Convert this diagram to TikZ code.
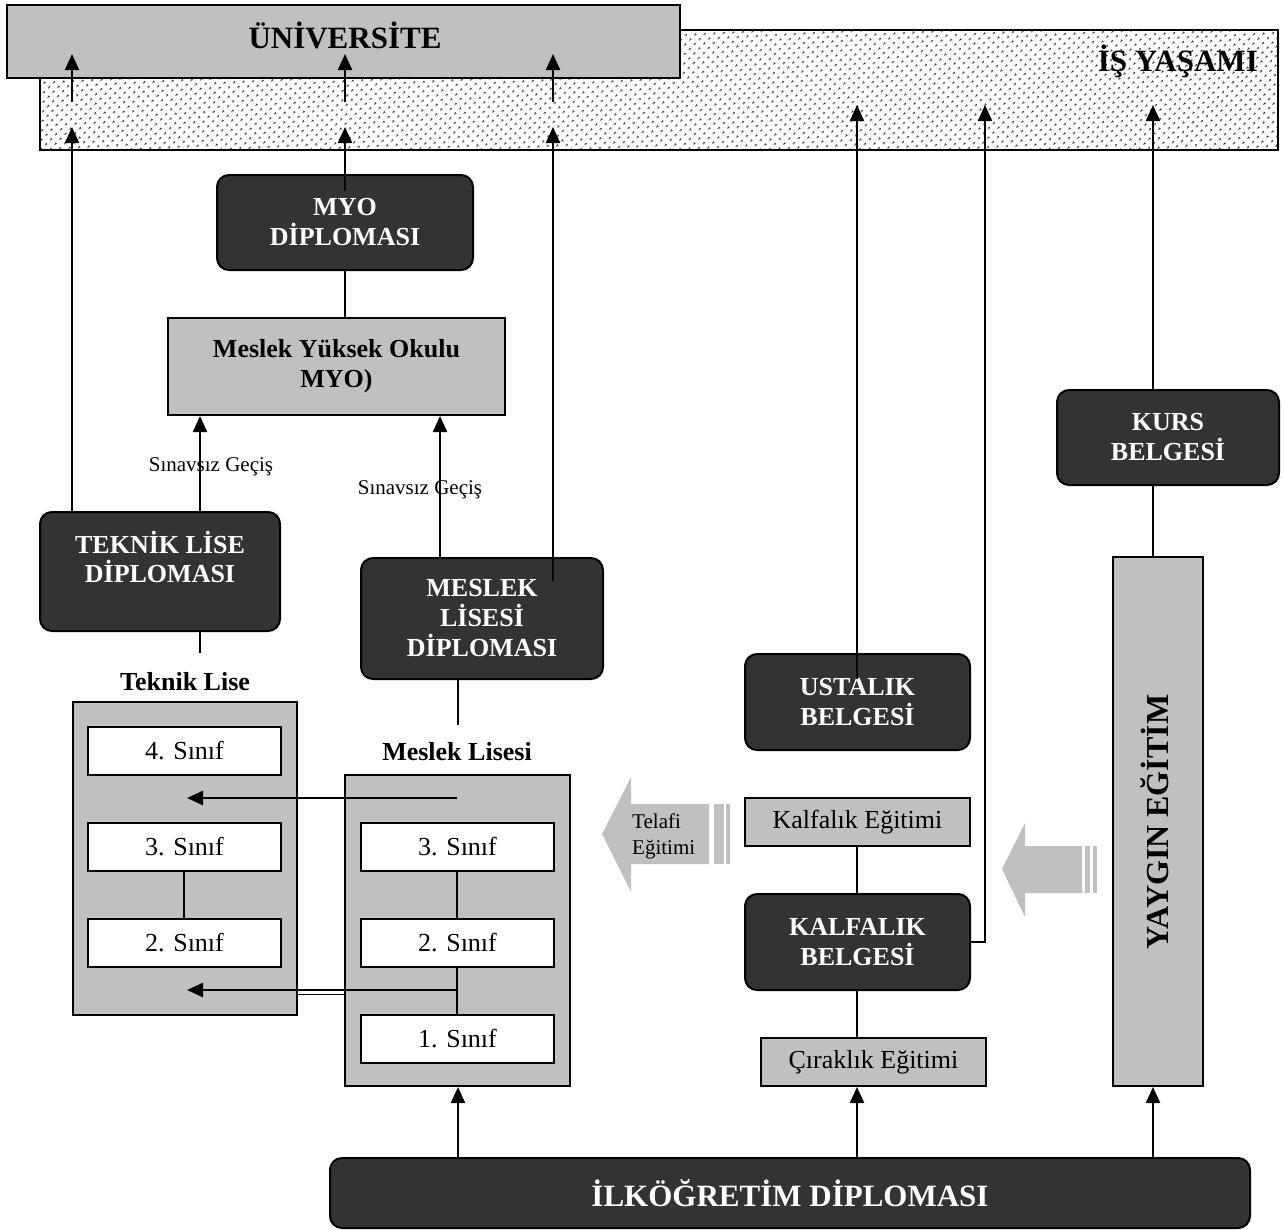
\documentclass[tikz,border=0pt]{standalone}
\usepackage{fontspec}
\setmainfont{Liberation Serif}
\usetikzlibrary{arrows.meta,patterns.meta,calc}
\definecolor{boxgray}{HTML}{C0C0C0}
\definecolor{darkbox}{HTML}{333333}
\begin{document}
\begin{tikzpicture}[x=1pt,y=-1pt,
  gbox/.style={draw=black,line width=2pt,fill=boxgray,inner sep=0pt,align=center,font=\bfseries\fontsize{26}{30}\selectfont},
  gnbox/.style={draw=black,line width=2pt,fill=boxgray,inner sep=0pt,align=center,font=\fontsize{26}{30}\selectfont},
  wbox/.style={draw=black,line width=2pt,fill=white,inner sep=0pt,minimum width=193pt,minimum height=48pt,font=\fontsize{26}{30}\selectfont},
  dbox/.style={draw=black,line width=2pt,fill=darkbox,rounded corners=12pt,inner sep=0pt,text=white,align=center,font=\bfseries\fontsize{26}{30}\selectfont},
  dtext/.style={inner sep=0pt,text=white,align=center,font=\bfseries\fontsize{26}{29}\selectfont},
  arr/.style={line width=2.3pt,-{Triangle[length=16pt,width=14pt]}},
  conn/.style={line width=1.9pt},
  lbl/.style={font=\bfseries\fontsize{26}{30}\selectfont,inner sep=0pt},
  small/.style={font=\fontsize{21}{26}\selectfont,inner sep=0pt},
]
\useasboundingbox (0,0) rectangle (1284,1229);

% --- top bands
\node[draw=black,line width=2pt,preaction={fill=white},
      pattern={Dots[distance=6.5pt,radius=1.2pt,angle=45]},pattern color=black!85,
      minimum width=1238pt,minimum height=120pt,inner sep=0pt] (isy) at (659,90) {};
\node[gbox,minimum width=673pt,minimum height=73pt] (univ) at (343.5,41.5) {};
\node[lbl,font=\bfseries\fontsize{31}{36}\selectfont,anchor=base] (univtext) at (345,48) {ÜNİVERSİTE};
\node[lbl,font=\bfseries\fontsize{31}{36}\selectfont,anchor=base east] (isylab) at (1258,71) {İŞ YAŞAMI};

% --- helper coordinates
\coordinate (ua1) at (72,102);  \coordinate (ut1) at (72,54);
\coordinate (ua2) at (345,102); \coordinate (ut2) at (345,54);
\coordinate (ua3) at (553,102); \coordinate (ut3) at (553,54);
\coordinate (lowtip) at (0,127);
\coordinate (rtip) at (0,105);
\coordinate (kx) at (985,0);
\coordinate (kursx) at (1153,0);
\coordinate (ustx) at (857,0);

% --- MYO
\node[dbox,minimum width=256pt,minimum height=95pt] (myod) at (345,222.5) {MYO\\DİPLOMASI};
\node[gbox,minimum width=337pt,minimum height=97pt] (myo) at (336.5,366.5) {Meslek Yüksek Okulu\\MYO)};

% --- diplomas
\node[dbox,minimum width=240pt,minimum height=119pt] (tekd) at (160,571.5) {};
\node[dtext] (tekdtext) at (160,557) {TEKNİK LİSE\\DİPLOMASI};
\node[dbox,minimum width=242pt,minimum height=121pt] (mlsd) at (482,618.5) {MESLEK\\LİSESİ\\DİPLOMASI};

% --- labels
\node[small] (sg1) at (211,467) {Sınavsız Geçiş};
\node[small] (sg2) at (420,490) {Sınavsız Geçiş};
\node[lbl] (teklab) at (185,682) {Teknik Lise};
\node[lbl] (mlslab) at (457,752) {Meslek Lisesi};

% --- containers
\node[draw=black,line width=2pt,fill=boxgray,minimum width=224pt,minimum height=313pt,inner sep=0pt] (tek) at (185,858.5) {};
\node[draw=black,line width=2pt,fill=boxgray,minimum width=225pt,minimum height=311pt,inner sep=0pt] (mls) at (457.5,930.5) {};
\node[wbox] (t4) at (184.5,750.5) {4. Sınıf};
\node[wbox] (t3) at (184.5,847) {3. Sınıf};
\node[wbox] (t2) at (184.5,943) {2. Sınıf};
\node[wbox] (m3) at (457.5,847) {3. Sınıf};
\node[wbox] (m2) at (457.5,943) {2. Sınıf};
\node[wbox] (m1) at (457.5,1039) {1. Sınıf};

\coordinate (tlx) at (184,0);
\coordinate (mlx) at (457,0);
\draw[conn] (t3.south -| tlx) -- (t2.north -| tlx);
\draw[conn] (m3.south -| mlx) -- (m2.north -| mlx);
\draw[conn] (m2.south -| mlx) -- (m1.north -| mlx);

\coordinate (h1s) at (457,798); \coordinate (h1e) at (187,798);
\coordinate (h2s) at (457,990); \coordinate (h2e) at (187,990);
\draw[arr] (h1s) -- (h1e);
\draw[arr] (h2s) -- (h2e);
\draw[line width=1.2pt] (tek.east |- 0,994.5) -- (mls.west |- 0,994.5);

% --- right column
\node[dbox,minimum width=225pt,minimum height=96pt] (ust) at (857.5,702) {USTALIK\\BELGESİ};
\node[gnbox,minimum width=225pt,minimum height=48pt] (kalfe) at (857.5,822) {Kalfalık Eğitimi};
\node[dbox,minimum width=225pt,minimum height=96pt] (kalfb) at (857.5,942) {KALFALIK\\BELGESİ};
\node[gnbox,minimum width=225pt,minimum height=48pt] (cir) at (873.5,1062) {Çıraklık Eğitimi};
\node[dbox,minimum width=222pt,minimum height=95pt] (kurs) at (1168,437.5) {KURS\\BELGESİ};
\node[draw=black,line width=2pt,fill=boxgray,minimum width=90pt,minimum height=529pt,inner sep=0pt] (yay) at (1158,821.5) {};
\node[rotate=90,inner sep=0pt,font=\bfseries\fontsize{32}{36}\selectfont] (yaytext) at (1155,822) {YAYGIN EĞİTİM};

\node[dbox,minimum width=920pt,minimum height=70pt,font=\bfseries\fontsize{31}{36}\selectfont] (ilk) at (790,1193) {İLKÖĞRETİM DİPLOMASI};

% --- block arrows
\fill[boxgray] (602,834) -- (631,777) -- (631,804) -- (709,804) -- (709,864) -- (631,864) -- (631,892) -- cycle;
\fill[boxgray] (714,804) rectangle (724,864);
\fill[boxgray] (726,804) rectangle (730,864);
\node[small,align=left,anchor=west] (telafi) at (632,836) {Telafi\\Eğitimi};

\fill[boxgray] (1002,869) -- (1025,823) -- (1025,846) -- (1082,846) -- (1082,893) -- (1025,893) -- (1025,917) -- cycle;
\fill[boxgray] (1085,846) rectangle (1090,893);
\fill[boxgray] (1093,846) rectangle (1097,893);

% --- connectors left
\draw[arr] (ua1) -- (ut1);
\draw[arr] (ua2) -- (ut2);
\draw[arr] (ua3) -- (ut3);
\draw[arr] (tekd.north -| ua1) -- (ua1 |- lowtip);
\draw[arr] ($(myod.north)+(0,17)$) -- (ua2 |- lowtip);
\draw[arr] ($(mlsd.north -| ua3)+(0,24)$) -- (ua3 |- lowtip);
\draw[conn] (myod.south) -- (myod.south |- myo.north);
\draw[arr] (tekd.north -| 200,0) -- (myo.south -| 200,0);
\draw[arr] (mlsd.north -| 440,0) -- (myo.south -| 440,0);
\coordinate (tekstub) at (200,653);
\coordinate (mlsstub) at (458,725);
\draw[conn] (tekd.south -| tekstub) -- (tekstub);
\draw[conn] (mlsd.south -| mlsstub) -- (mlsstub);

% --- connectors right
\draw[arr] ($(ust.north -| ustx)+(0,26)$) -- (ustx |- rtip);
\draw[conn] (kalfe.south -| ustx) -- (kalfb.north -| ustx);
\draw[conn] (kalfb.south -| ustx) -- (cir.north -| ustx);
\draw[arr] (kalfb.east) -- (kalfb.east -| kx) -- (kx |- rtip);
\draw[arr] (kurs.north -| kursx) -- (kursx |- rtip);
\draw[conn] (kurs.south -| kursx) -- (yay.north -| kursx);

% --- from İlköğretim
\draw[arr] (ilk.north -| mlsstub) -- (mls.south -| mlsstub);
\draw[arr] (ilk.north -| ustx) -- (cir.south -| ustx);
\draw[arr] (ilk.north -| kursx) -- (yay.south -| kursx);
\end{tikzpicture}
\end{document}
